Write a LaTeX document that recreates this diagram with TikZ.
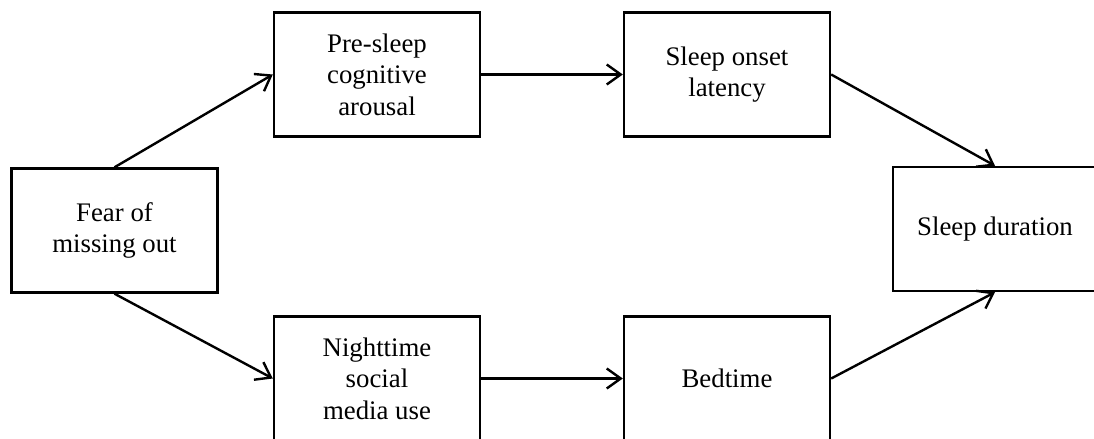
\documentclass[tikz,border=0pt]{standalone}
\usepackage{fontspec}
\setmainfont{Liberation Serif}
\usetikzlibrary{arrows.meta}
\begin{document}
\begin{tikzpicture}[x=0.5pt,y=-0.5pt,
  box/.style={draw, line width=1.2pt, minimum width=103pt, minimum height=62pt,
    inner sep=0pt, align=center, font=\fontsize{13.4pt}{15.8pt}\selectfont},
  link/.style={line width=1.2pt, -{Straight Barb[length=7pt,width=10pt,line width=1.2pt]}}]
\useasboundingbox (0,0) rectangle (1094,439);
\node[box] (fear)  at (114.5,230.5) {Fear of\\missing out};
\node[box] (pre)   at (377,74.5)   {Pre-sleep\\cognitive\\arousal};
\node[box] (onset) at (727,74.5)   {Sleep onset\\latency};
\node[box, minimum width=102pt] (dur) at (995,229) {Sleep duration};
\node[box] (night) at (377,378.5)  {Nighttime\\social\\media use};
\node[box] (bed)   at (727,378.5)  {Bedtime};
\draw[link] (fear.north) -- (pre.west);
\draw[link] (pre) -- (onset);
\draw[link] (onset.east) -- (dur.north);
\draw[link] (fear.south) -- (night.west);
\draw[link] (night) -- (bed);
\draw[link] (bed.east) -- (dur.south);
\end{tikzpicture}
\end{document}
